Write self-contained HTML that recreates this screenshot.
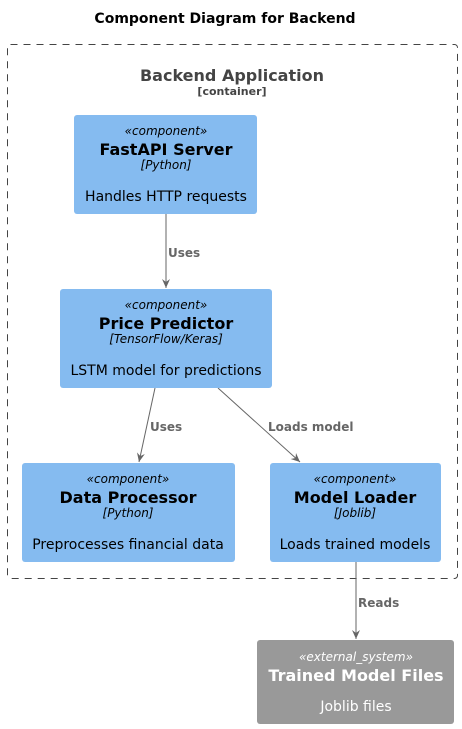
<!DOCTYPE html>
<html><head><meta charset="utf-8"><style>
html,body{margin:0;padding:0;background:#fff;}
svg{display:block;font-family:"DejaVu Sans","Liberation Sans",sans-serif;}
</style></head><body>
<svg width="462" height="729" viewBox="0 0 462 729" xmlns="http://www.w3.org/2000/svg">
<defs><marker id="a" markerWidth="10" markerHeight="10" refX="9" refY="5" orient="auto" markerUnits="userSpaceOnUse"><path d="M0,1 L9,5 L0,9 L3,5 Z" fill="#666"/></marker></defs>
<text x="225" y="23" text-anchor="middle" font-size="14" font-weight="bold">Component Diagram for Backend</text>
<rect x="7.5" y="44.5" width="450" height="534" rx="3" fill="none" stroke="#444" stroke-dasharray="7,6"/>
<text x="232" y="81" text-anchor="middle" font-size="16" font-weight="bold" fill="#444">Backend Application</text>
<text x="232" y="95" text-anchor="middle" font-size="11" font-weight="bold" fill="#444">[container]</text>

<g stroke="#666" stroke-width="1" fill="none">
<line x1="166" y1="214" x2="166" y2="288" marker-end="url(#a)"/>
<line x1="155" y1="388" x2="139" y2="462" marker-end="url(#a)"/>
<line x1="218" y1="388" x2="300" y2="462" marker-end="url(#a)"/>
<line x1="356" y1="562" x2="356" y2="639" marker-end="url(#a)"/>
</g>
<g font-size="12" font-weight="bold" fill="#666">
<text x="168" y="257">Uses</text>
<text x="150" y="431">Uses</text>
<text x="268" y="431">Loads model</text>
<text x="358" y="607">Reads</text>
</g>

<g text-anchor="middle">
<rect x="74" y="115" width="183" height="99" rx="3" fill="#85bbf0"/>
<text x="166" y="135" font-size="12" font-style="italic">«component»</text>
<text x="166" y="155" font-size="16" font-weight="bold">FastAPI Server</text>
<text x="166" y="169" font-size="12" font-style="italic">[Python]</text>
<text x="166" y="201" font-size="14">Handles HTTP requests</text>

<rect x="60" y="289" width="212" height="99" rx="3" fill="#85bbf0"/>
<text x="166" y="309" font-size="12" font-style="italic">«component»</text>
<text x="166" y="329" font-size="16" font-weight="bold">Price Predictor</text>
<text x="166" y="343" font-size="12" font-style="italic">[TensorFlow/Keras]</text>
<text x="166" y="375" font-size="14">LSTM model for predictions</text>

<rect x="22" y="463" width="213" height="99" rx="3" fill="#85bbf0"/>
<text x="128" y="483" font-size="12" font-style="italic">«component»</text>
<text x="128" y="503" font-size="16" font-weight="bold">Data Processor</text>
<text x="128" y="517" font-size="12" font-style="italic">[Python]</text>
<text x="128" y="549" font-size="14">Preprocesses financial data</text>

<rect x="270" y="463" width="171" height="99" rx="3" fill="#85bbf0"/>
<text x="355" y="483" font-size="12" font-style="italic">«component»</text>
<text x="355" y="503" font-size="16" font-weight="bold">Model Loader</text>
<text x="355" y="517" font-size="12" font-style="italic">[Joblib]</text>
<text x="355" y="549" font-size="14">Loads trained models</text>

<rect x="257" y="640" width="197" height="84" rx="3" fill="#999"/>
<text x="356" y="661" font-size="12" font-style="italic" fill="#fff">«external_system»</text>
<text x="356" y="681" font-size="16" font-weight="bold" fill="#fff">Trained Model Files</text>
<text x="356" y="711" font-size="14" fill="#fff">Joblib files</text>
</g>
</svg>
</body></html>
